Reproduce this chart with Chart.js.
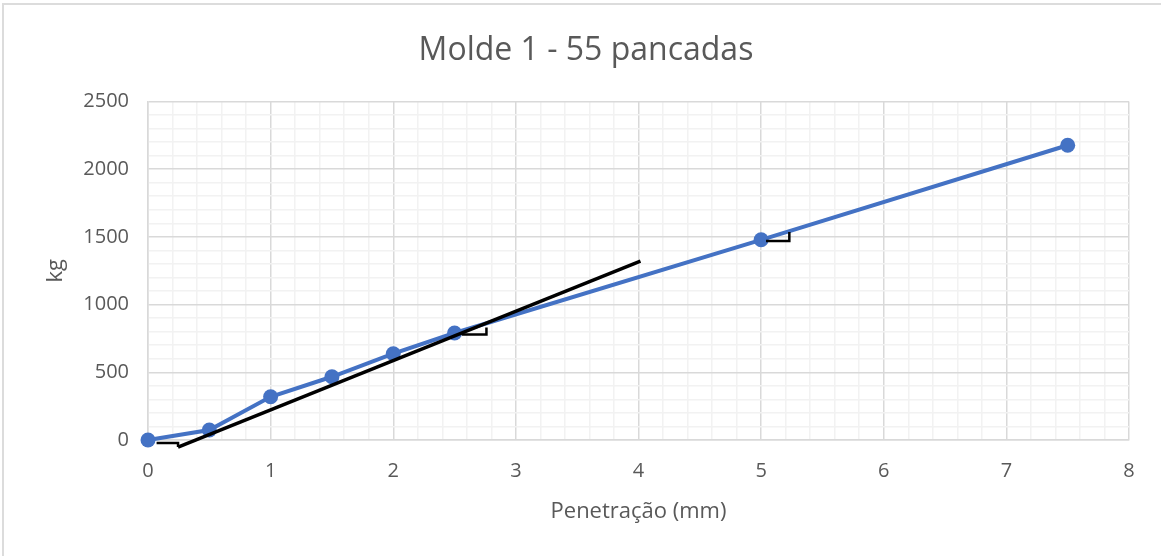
<!DOCTYPE html>
<html>
<head>
<meta charset="utf-8">
<script src="https://cdn.jsdelivr.net/npm/chart.js@4"></script>
<style>
  html, body { margin: 0; padding: 0; background: #fff; }
  #wrap { position: absolute; left: 0; top: 0; width: 1161px; height: 556px; overflow: hidden; }
  #frame { position: absolute; left: 2px; top: 3px; width: 1170px; height: 570px;
           border-left: 2px solid #dcdcdc; border-top: 2px solid #dcdcdc; box-sizing: border-box; pointer-events: none; }
  canvas { position: absolute; left: 0; top: 0; }
</style>
</head>
<body>
<div id="wrap">
  <canvas id="c" width="1161" height="556"></canvas>
  <div id="frame"></div>
</div>
<script>
// Ensaio de penetração – molde 1, 55 pancadas
const penetracao = [0, 0.5, 1, 1.5, 2, 2.5, 5, 7.5];
const carga      = [0, 74, 319, 467, 637, 790, 1478, 2176];

// Reta de correção traçada sobre o trecho inicial da curva
const retaX = [0.245, 4.016];
const retaY = [-52, 1320];

// Pequenos traços de marcação junto aos pontos
const marcaInicioX = [0.07, 0.245, 0.245];
const marcaInicioY = [-22, -22, -52];
const marca25X = [2.56, 2.76, 2.76];
const marca25Y = [779, 779, 831];
const marca5X = [5.04, 5.23, 5.23];
const marca5Y = [1469, 1469, 1536];

const xTicks = [0, 1, 2, 3, 4, 5, 6, 7, 8];
const yTicks = [0, 500, 1000, 1500, 2000, 2500];

const pts = (xs, ys) => xs.map((x, i) => ({ x: x, y: ys[i] }));
const isMajor = (v, step) => Math.abs(v / step - Math.round(v / step)) < 1e-6;

const textColor = '#595959';
const fontFamily = '"Open Sans", "Segoe UI", sans-serif';

const marca = (xs, ys) => ({
  data: pts(xs, ys), borderColor: '#000', borderWidth: 2.5, pointRadius: 0,
  showLine: true, fill: false, tension: 0, order: 0, clip: false
});

new Chart(document.getElementById('c'), {
  type: 'scatter',
  data: {
    datasets: [
      {
        data: pts(penetracao, carga),
        showLine: true,
        borderColor: '#4472C4',
        backgroundColor: '#4472C4',
        borderWidth: 4,
        pointRadius: 7.5,
        pointHoverRadius: 7.5,
        pointBorderWidth: 0,
        tension: 0,
        order: 2,
        clip: false
      },
      {
        data: pts(retaX, retaY),
        showLine: true,
        borderColor: '#000',
        borderWidth: 3.5,
        pointRadius: 0,
        tension: 0,
        order: 1,
        clip: false
      },
      marca(marcaInicioX, marcaInicioY),
      marca(marca25X, marca25Y),
      marca(marca5X, marca5Y)
    ]
  },
  options: {
    responsive: false,
    animation: false,
    layout: { padding: { left: 43, right: 32, top: 0, bottom: 27 } },
    plugins: {
      legend: { display: false },
      tooltip: { enabled: false },
      title: {
        display: true,
        text: 'Molde 1 - 55 pancadas',
        color: textColor,
        font: { family: fontFamily, size: 32, weight: 'normal' },
        padding: { top: 32, bottom: 31 }
      }
    },
    scales: {
      x: {
        type: 'linear',
        min: 0, max: 8,
        afterBuildTicks: (s) => { s.ticks = []; for (let i = 0; i <= 40; i++) s.ticks.push({ value: i * 0.2 }); },
        ticks: {
          autoSkip: false,
          maxRotation: 0,
          color: textColor,
          font: { family: fontFamily, size: 20 },
          padding: 19,
          callback: (v) => isMajor(v, 1) && xTicks.includes(Math.round(v)) ? String(Math.round(v)) : ''
        },
        grid: {
          color: (ctx) => isMajor(ctx.tick.value, 1) ? '#d9d9d9' : '#f2f2f2',
          lineWidth: 1.5,
          drawTicks: false
        },
        border: { display: true, color: '#d9d9d9', width: 1.5 },
        title: {
          display: true,
          text: 'Penetração (mm)',
          color: textColor,
          font: { family: fontFamily, size: 22 },
          padding: { top: 14 }
        },
        afterFit: (s) => { s.height = 89; }
      },
      y: {
        type: 'linear',
        min: 0, max: 2500,
        afterBuildTicks: (s) => { s.ticks = []; for (let v = 0; v <= 2500; v += 100) s.ticks.push({ value: v }); },
        ticks: {
          autoSkip: false,
          color: textColor,
          font: { family: fontFamily, size: 20 },
          padding: 19,
          callback: (v) => yTicks.includes(v) ? String(v) : ''
        },
        grid: {
          color: (ctx) => isMajor(ctx.tick.value, 500) ? '#d9d9d9' : '#f2f2f2',
          lineWidth: 1.5,
          drawTicks: false
        },
        border: { display: true, color: '#d9d9d9', width: 1.5 },
        title: {
          display: true,
          text: 'kg',
          color: textColor,
          font: { family: fontFamily, size: 22 },
          padding: 0
        },
        afterFit: (s) => { s.width = 105; }
      }
    }
  }
});
</script>
</body>
</html>
